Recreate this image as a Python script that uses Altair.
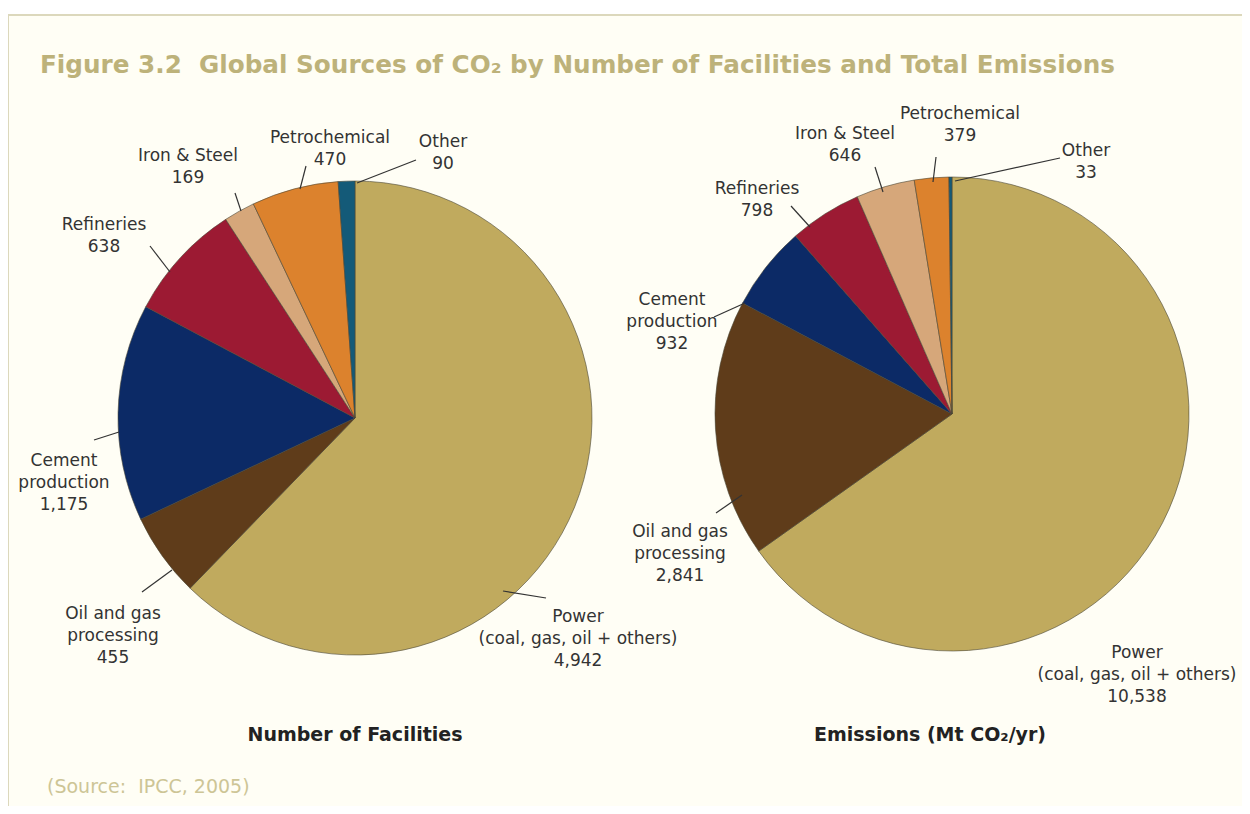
import altair as alt
import pandas as pd

# ---- data ----
categories = ["Power", "Oil and gas processing", "Cement production", "Refineries",
              "Iron & Steel", "Petrochemical", "Other"]
facilities = [4942, 455, 1175, 638, 169, 470, 90]
emissions = [10538, 2841, 932, 798, 646, 379, 33]
colors = ["#c0aa5e", "#5f3c1a", "#0c2a66", "#9c1a33", "#d6a77a", "#dc822d", "#145a78"]

NB = "\u00a0"
title_text = "Figure 3.2" + NB + NB + "Global Sources of CO\u2082 by Number of Facilities and Total Emissions"
sub_left = "Number of Facilities"
sub_right = "Emissions (Mt CO\u2082/yr)"
source_text = "(Source:" + NB + NB + "IPCC, 2005)"

# label lines per slice (left pie / right pie)
left_labels = [["Power", "(coal, gas, oil + others)", "4,942"],
               ["Oil and gas", "processing", "455"],
               ["Cement", "production", "1,175"],
               ["Refineries", "638"],
               ["Iron & Steel", "169"],
               ["Petrochemical", "470"],
               ["Other", "90"]]
right_labels = [["Power", "(coal, gas, oil + others)", "10,538"],
                ["Oil and gas", "processing", "2,841"],
                ["Cement", "production", "932"],
                ["Refineries", "798"],
                ["Iron & Steel", "646"],
                ["Petrochemical", "379"],
                ["Other", "33"]]

# ---- layout (annotation positions in page pixels) ----
OFF = 8
W, H = 1234, 798
left_center = (355, 418)
right_center = (952, 414)
R = 237
line_h = 22
# first-line centre of each label block
left_label_pos = [(578, 617), (113, 614), (64, 461), (104, 225), (188, 156), (330, 138), (443, 142)]
right_label_pos = [(1137, 653), (680, 532), (672, 300), (757, 189), (845, 134), (960, 114), (1086, 151)]
# leader lines (x1, y1, x2, y2)
left_leaders = [(503, 591, 546, 598), (172, 570, 142, 592), (119, 432, 94, 440),
                (170, 272, 150, 246), (241, 211, 235, 193), (300, 189, 306, 166),
                (357, 183, 416, 160)]
right_leaders = [(742, 495, 716, 513), (745, 303, 714, 317),
                 (810, 227, 791, 206), (883, 192, 875, 167), (933, 182, 936, 157),
                 (955, 181, 1060, 158)]

FONT = "DejaVu Sans"
TXT = "#333333"


def pie(values, center):
    df = pd.DataFrame({"cat": categories, "value": values, "ord": list(range(len(values)))})
    return alt.Chart(df).mark_arc(stroke="#4a4636", strokeWidth=0.6).encode(
        theta=alt.Theta("value:Q", stack=True),
        order=alt.Order("ord:Q"),
        color=alt.Color("cat:N", scale=alt.Scale(domain=categories, range=colors), legend=None),
        x=alt.value(center[0] - OFF),
        y=alt.value(center[1] - OFF),
        radius=alt.value(R),
    )


rows = []
for labels, pos in ((left_labels, left_label_pos), (right_labels, right_label_pos)):
    for lines, (x, y) in zip(labels, pos):
        for i, t in enumerate(lines):
            rows.append({"x": x - OFF, "y": y - OFF + i * line_h, "t": t})
label_df = pd.DataFrame(rows)

labels_layer = alt.Chart(label_df).mark_text(
    font=FONT, fontSize=17, color=TXT, align="center", baseline="middle"
).encode(x=alt.X("x:Q", scale=None), y=alt.Y("y:Q", scale=None), text="t:N")

lead_df = pd.DataFrame(
    [{"x": a - OFF, "y": b - OFF, "x2": c - OFF, "y2": d - OFF} for (a, b, c, d) in left_leaders + right_leaders]
)
leaders = alt.Chart(lead_df).mark_rule(color="#333333", strokeWidth=1.2).encode(
    x=alt.X("x:Q", scale=None), y=alt.Y("y:Q", scale=None),
    x2="x2:Q", y2="y2:Q")

bg_df = pd.DataFrame({"x": [0], "y": [15 - OFF], "x2": [W + 20], "y2": [H + 20]})
bg = alt.Chart(bg_df).mark_rect(fill="#fffef5", stroke="#dcd8bc", strokeWidth=2).encode(
    x=alt.X("x:Q", scale=None), y=alt.Y("y:Q", scale=None), x2="x2:Q", y2="y2:Q")

title_df = pd.DataFrame({"x": [40 - OFF], "y": [66 - OFF], "t": [title_text]})
title = alt.Chart(title_df).mark_text(
    font=FONT, fontSize=24.7, fontWeight="bold", color="#bdb27a", align="left", baseline="middle"
).encode(x=alt.X("x:Q", scale=None), y=alt.Y("y:Q", scale=None), text="t:N")

sub_df = pd.DataFrame({"x": [355 - OFF, 930 - OFF], "y": [735 - OFF, 735 - OFF], "t": [sub_left, sub_right]})
subs = alt.Chart(sub_df).mark_text(
    font=FONT, fontSize=19, fontWeight="bold", color="#222222", align="center", baseline="middle"
).encode(x=alt.X("x:Q", scale=None), y=alt.Y("y:Q", scale=None), text="t:N")

src_df = pd.DataFrame({"x": [47 - OFF], "y": [787 - OFF], "t": [source_text]})
src = alt.Chart(src_df).mark_text(
    font=FONT, fontSize=19, color="#cdc596", align="left", baseline="middle"
).encode(x=alt.X("x:Q", scale=None), y=alt.Y("y:Q", scale=None), text="t:N")

chart = alt.layer(
    bg, pie(facilities, left_center), pie(emissions, right_center), leaders, labels_layer, title, subs, src
).resolve_scale(theta="independent").properties(
    width=W, height=H, padding=0, autosize="none", background="white"
).configure_view(stroke=None)

chart.save("out.html", embed_options={"renderer": "svg", "actions": False})
